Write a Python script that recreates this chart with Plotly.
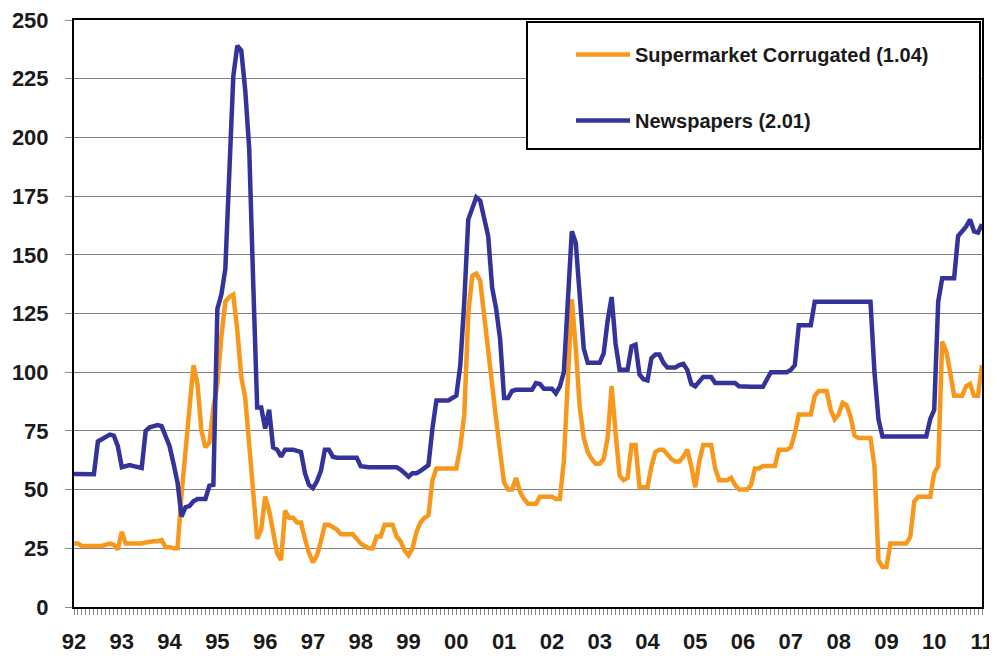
import plotly.graph_objects as go

# ---- data (monthly, Jan 1992 .. Jan 2011) ----
start_year = 1992
supermarket_corrugated = [
    27, 27, 26, 26, 26, 26, 26, 26, 26.5, 27, 26.5, 24.5,          # 1992
    32, 27, 27, 27, 27, 27, 27.5, 28, 28, 28, 28.5, 25.5,          # 1993
    25.5, 25, 25, 48, 68, 86, 103, 95, 75, 68, 70, 85,             # 1994
    95, 115, 130, 132, 133, 118, 98, 89, 68, 47, 29, 33,           # 1995
    47, 41, 33, 23, 20, 41, 38, 38, 36, 36, 29, 23,                # 1996
    19, 22, 28, 35, 35, 34, 33, 31, 31, 31, 31, 29,                # 1997
    27, 26, 25, 25, 30, 30, 35, 35, 35, 30, 28, 24,                # 1998
    22, 25, 32, 36, 38, 39, 54, 59, 59, 59, 59, 59,                # 1999
    59, 68, 82, 125, 141, 142, 139, 124, 108, 94, 80, 66,          # 2000
    53, 50, 50, 55, 49, 46, 44, 44, 44, 47, 47, 47,                # 2001
    47, 46, 46, 62, 100, 131, 110, 85, 72, 66, 63, 61,             # 2002
    61, 63, 72, 94, 74, 56, 54, 55, 69, 69, 51, 51,                # 2003
    51, 60, 66, 67, 67, 65, 63, 62, 62, 64, 67, 60,                # 2004
    51, 62, 69, 69, 69, 59, 54, 54, 54, 55, 52, 50,                # 2005
    50, 50, 52, 59, 59, 60, 60, 60, 60, 67, 67, 67,                # 2006
    68, 74, 82, 82, 82, 82, 90, 92, 92, 92, 84, 80,                # 2007
    82, 87, 86, 81, 73, 72, 72, 72, 72, 60, 20, 17,                # 2008
    17, 27, 27, 27, 27, 27, 30, 45, 47, 47, 47, 47,                # 2009
    57, 60, 113, 109, 100, 90, 90, 90, 94, 95, 90, 90,             # 2010
    103,                                                           # Jan 2011
]
newspapers = [
    56.6, 56.6, 56.6, 56.6, 56.6, 56.5, 70.5, 71.3, 72.5, 73.4, 73, 68.5,   # 1992
    59.5, 60, 60.4, 60, 59.8, 59.2, 75, 76.5, 77, 77.5, 77, 72,             # 1993
    68.5, 61, 53, 38.5, 42.5, 43, 45, 46, 46, 46, 51.7, 52,                 # 1994
    127, 133, 144, 180, 226, 239, 237, 220, 195, 138, 85, 85,               # 1995
    76, 84, 68, 67, 64, 67, 67, 67, 66.5, 66, 57, 52,                       # 1996
    50.6, 53.5, 58, 67, 67, 64, 63.6, 63.6, 63.6, 63.6, 63.6, 63.6,         # 1997
    60, 59.5, 59.5, 59.5, 59.5, 59.5, 59.5, 59.5, 59.5, 59.5, 58.5, 57,     # 1998
    55.5, 57, 57, 58, 59.5, 60.4, 76, 88, 88, 88, 88, 89,                   # 1999
    90, 103, 130, 165, 170, 174.5, 173, 166, 158, 136, 127, 114,            # 2000
    89, 89, 92, 92.5, 92.5, 92.5, 92.5, 92.5, 95.4, 95, 93, 93,             # 2001
    93, 91, 94, 100, 130, 160, 155, 130, 110, 104, 104, 104,                # 2002
    104, 108, 122, 132, 112, 101, 101, 101, 111, 111.7, 99, 97,             # 2003
    96.5, 106, 107.5, 107.5, 104, 102, 102, 102, 103, 103.5, 101, 95,       # 2004
    94, 96, 98, 98, 98, 95.4, 95.4, 95.4, 95.4, 95.4, 95.4, 94,             # 2005
    93.8, 93.8, 93.8, 93.8, 93.8, 93.8, 97, 100, 100, 100, 100, 100,        # 2006
    101, 103, 120, 120, 120, 120, 130, 130, 130, 130, 130, 130,             # 2007
    130, 130, 130, 130, 130, 130, 130, 130, 130, 100, 80, 72.6,             # 2008
    72.6, 72.6, 72.6, 72.6, 72.6, 72.6, 72.6, 72.6, 72.6, 72.6, 72.6, 80,   # 2009
    84, 130, 140, 140, 140, 140, 158, 160, 162, 165, 160, 159.5,            # 2010
    163,                                                                    # Jan 2011
]
series_names = ["Supermarket Corrugated (1.04)", "Newspapers (2.01)"]
year_ticks = list(range(1992, 2012))
year_labels = ["92", "93", "94", "95", "96", "97", "98", "99", "00", "01",
               "02", "03", "04", "05", "06", "07", "08", "09", "10", "11"]
y_ticks = list(range(0, 251, 25))

months = [start_year + i / 12 for i in range(len(newspapers))]

FONT = "Liberation Sans, Arial, sans-serif"
ORANGE = "#F7981D"
BLUE = "#333399"

fig = go.Figure()
fig.add_trace(go.Scatter(x=months, y=supermarket_corrugated, mode="lines",
                         name=series_names[0], legendgroup="a",
                         line=dict(color=ORANGE, width=4.5)))
fig.add_trace(go.Scatter(x=months, y=newspapers, mode="lines",
                         name=series_names[1], legendgroup="b",
                         line=dict(color=BLUE, width=4.5)))

# legend box (plot area is 908 x 587 px)
fig.add_shape(type="rect", xref="paper", yref="paper",
              x0=(527 - 74) / 908, x1=(980 - 74) / 908,
              y0=(607 - 149) / 587, y1=(607 - 22) / 587,
              line=dict(color="black", width=2), fillcolor="white", layer="above")

# the page body has an 8px margin, so the figure is 8px smaller than the window
fig.update_layout(
    width=989, height=652,
    margin=dict(l=66, r=15, t=12, b=53, autoexpand=False),
    paper_bgcolor="white", plot_bgcolor="white",
    font=dict(family=FONT, color="#1a1a1a"),
    showlegend=True,
    legend=dict(x=(571 - 74) / 908, y=(607 - 35) / 587, xanchor="left", yanchor="top",
                bgcolor="rgba(0,0,0,0)", borderwidth=0,
                font=dict(family=FONT, size=20, weight="bold", color="#1a1a1a"),
                itemwidth=54, tracegroupgap=37),
    xaxis=dict(range=[1992, 2011], tickmode="array", tickvals=year_ticks, ticktext=year_labels,
               ticks="outside", ticklen=6, tickcolor="#888888", tickwidth=1,
               minor=dict(tick0=1992, dtick=1 / 12, ticks="outside", ticklen=6,
                          tickcolor="#888888", tickwidth=1, showgrid=False),
               showgrid=False, zeroline=False, automargin=False,
               showline=True, linecolor="black", linewidth=2, mirror=True,
               tickfont=dict(family=FONT, size=22, weight="bold", color="#1a1a1a"),
               ticklabelstandoff=8, ticklabeloverflow="allow"),
    yaxis=dict(range=[0, 250], tickmode="array", tickvals=y_ticks,
               ticks="outside", ticklen=7, tickcolor="#888888", tickwidth=1,
               showgrid=True, gridcolor="#808080", gridwidth=1, zeroline=False,
               automargin=False,
               showline=True, linecolor="black", linewidth=2, mirror=True,
               tickfont=dict(family=FONT, size=22, weight="bold", color="#1a1a1a"),
               ticklabelstandoff=12, ticklabeloverflow="allow"),
)

fig.write_html("out.html")
